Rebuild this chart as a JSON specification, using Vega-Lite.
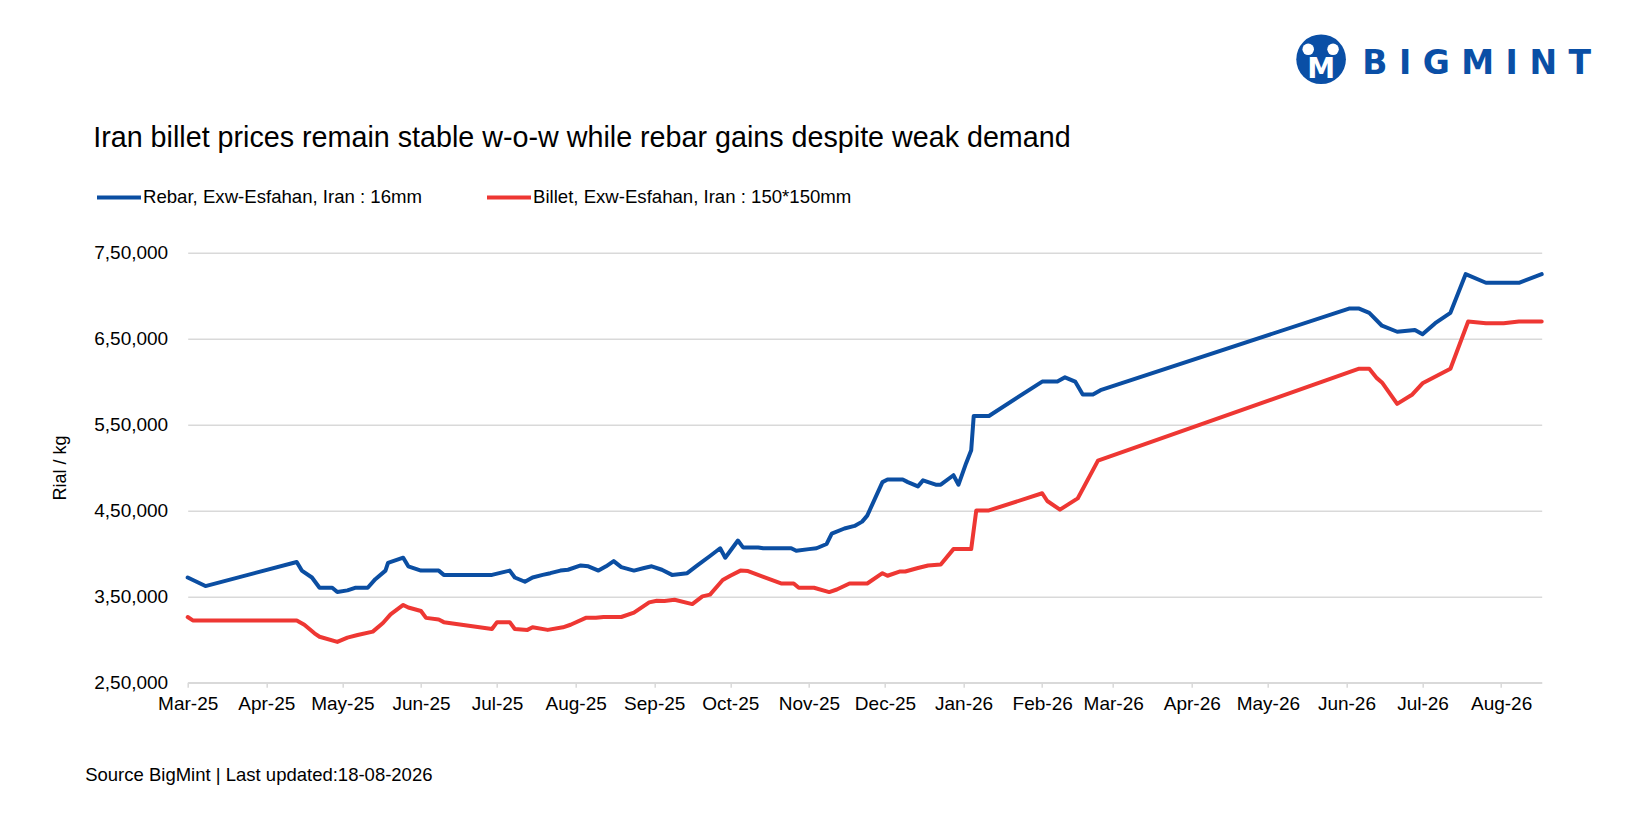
{
  "$schema": "https://vega.github.io/schema/vega-lite/v6.json",
  "width": 1354,
  "height": 429.6,
  "autosize": "none",
  "padding": {"left": 187.7, "top": 252.7, "right": 88.3, "bottom": 135.7},
  "background": "white",
  "config": {"font": "Liberation Sans", "view": {"stroke": null}},
  "title": {
    "text": "Iran billet prices remain stable w-o-w while rebar gains despite weak demand",
    "anchor": "start", "frame": "group", "fontSize": 28.7, "fontWeight": "normal",
    "color": "#000000", "dx": -94.5, "offset": 30, "dy": 148
  },
  "layer": [
    {
      "data": {"values": [
        {"d":"2025-03-01","s":"Rebar","p":372000},{"d":"2025-03-08","s":"Rebar","p":362000},{"d":"2025-04-13","s":"Rebar","p":390000},{"d":"2025-04-15","s":"Rebar","p":380000},{"d":"2025-04-19","s":"Rebar","p":372000},{"d":"2025-04-22","s":"Rebar","p":360000},{"d":"2025-04-27","s":"Rebar","p":360000},{"d":"2025-04-29","s":"Rebar","p":355000},{"d":"2025-05-03","s":"Rebar","p":357000},{"d":"2025-05-06","s":"Rebar","p":360000},{"d":"2025-05-11","s":"Rebar","p":360000},{"d":"2025-05-14","s":"Rebar","p":370000},{"d":"2025-05-18","s":"Rebar","p":380000},{"d":"2025-05-19","s":"Rebar","p":389000},{"d":"2025-05-25","s":"Rebar","p":395000},{"d":"2025-05-27","s":"Rebar","p":385000},{"d":"2025-06-01","s":"Rebar","p":380000},{"d":"2025-06-08","s":"Rebar","p":380000},{"d":"2025-06-10","s":"Rebar","p":375000},{"d":"2025-06-29","s":"Rebar","p":375000},{"d":"2025-07-06","s":"Rebar","p":380000},{"d":"2025-07-08","s":"Rebar","p":372000},{"d":"2025-07-12","s":"Rebar","p":367000},{"d":"2025-07-15","s":"Rebar","p":372000},{"d":"2025-07-19","s":"Rebar","p":375000},{"d":"2025-07-22","s":"Rebar","p":377000},{"d":"2025-07-26","s":"Rebar","p":380000},{"d":"2025-07-29","s":"Rebar","p":381000},{"d":"2025-08-03","s":"Rebar","p":386000},{"d":"2025-08-06","s":"Rebar","p":385000},{"d":"2025-08-10","s":"Rebar","p":380000},{"d":"2025-08-13","s":"Rebar","p":385000},{"d":"2025-08-16","s":"Rebar","p":391000},{"d":"2025-08-19","s":"Rebar","p":384000},{"d":"2025-08-24","s":"Rebar","p":380000},{"d":"2025-08-28","s":"Rebar","p":383000},{"d":"2025-08-31","s":"Rebar","p":385000},{"d":"2025-09-04","s":"Rebar","p":381000},{"d":"2025-09-08","s":"Rebar","p":375000},{"d":"2025-09-14","s":"Rebar","p":377000},{"d":"2025-09-18","s":"Rebar","p":386000},{"d":"2025-09-23","s":"Rebar","p":397000},{"d":"2025-09-27","s":"Rebar","p":406000},{"d":"2025-09-29","s":"Rebar","p":395000},{"d":"2025-10-04","s":"Rebar","p":415000},{"d":"2025-10-06","s":"Rebar","p":407000},{"d":"2025-10-12","s":"Rebar","p":407000},{"d":"2025-10-14","s":"Rebar","p":406000},{"d":"2025-10-25","s":"Rebar","p":406000},{"d":"2025-10-27","s":"Rebar","p":403000},{"d":"2025-11-01","s":"Rebar","p":405000},{"d":"2025-11-04","s":"Rebar","p":406000},{"d":"2025-11-08","s":"Rebar","p":411000},{"d":"2025-11-10","s":"Rebar","p":423000},{"d":"2025-11-15","s":"Rebar","p":429000},{"d":"2025-11-19","s":"Rebar","p":432000},{"d":"2025-11-22","s":"Rebar","p":437000},{"d":"2025-11-24","s":"Rebar","p":444000},{"d":"2025-11-30","s":"Rebar","p":483000},{"d":"2025-12-02","s":"Rebar","p":486000},{"d":"2025-12-08","s":"Rebar","p":486000},{"d":"2025-12-10","s":"Rebar","p":483000},{"d":"2025-12-14","s":"Rebar","p":478000},{"d":"2025-12-16","s":"Rebar","p":485000},{"d":"2025-12-21","s":"Rebar","p":480000},{"d":"2025-12-23","s":"Rebar","p":480000},{"d":"2025-12-28","s":"Rebar","p":491000},{"d":"2025-12-30","s":"Rebar","p":480000},{"d":"2026-01-02","s":"Rebar","p":505000},{"d":"2026-01-04","s":"Rebar","p":520000},{"d":"2026-01-05","s":"Rebar","p":560000},{"d":"2026-01-11","s":"Rebar","p":560000},{"d":"2026-02-01","s":"Rebar","p":600000},{"d":"2026-02-07","s":"Rebar","p":600000},{"d":"2026-02-10","s":"Rebar","p":605000},{"d":"2026-02-14","s":"Rebar","p":600000},{"d":"2026-02-17","s":"Rebar","p":585000},{"d":"2026-02-21","s":"Rebar","p":585000},{"d":"2026-02-24","s":"Rebar","p":590000},{"d":"2026-06-02","s":"Rebar","p":685000},{"d":"2026-06-06","s":"Rebar","p":685000},{"d":"2026-06-10","s":"Rebar","p":680000},{"d":"2026-06-15","s":"Rebar","p":665000},{"d":"2026-06-21","s":"Rebar","p":658000},{"d":"2026-06-28","s":"Rebar","p":660000},{"d":"2026-07-01","s":"Rebar","p":655000},{"d":"2026-07-06","s":"Rebar","p":668000},{"d":"2026-07-12","s":"Rebar","p":680000},{"d":"2026-07-18","s":"Rebar","p":725000},{"d":"2026-07-26","s":"Rebar","p":715000},{"d":"2026-08-08","s":"Rebar","p":715000},{"d":"2026-08-17","s":"Rebar","p":725000},
        {"d":"2025-03-01","s":"Billet","p":326000},{"d":"2025-03-03","s":"Billet","p":322000},{"d":"2025-04-13","s":"Billet","p":322000},{"d":"2025-04-16","s":"Billet","p":317000},{"d":"2025-04-20","s":"Billet","p":307000},{"d":"2025-04-22","s":"Billet","p":303000},{"d":"2025-04-29","s":"Billet","p":297000},{"d":"2025-05-03","s":"Billet","p":302000},{"d":"2025-05-07","s":"Billet","p":305000},{"d":"2025-05-13","s":"Billet","p":309000},{"d":"2025-05-17","s":"Billet","p":319000},{"d":"2025-05-20","s":"Billet","p":329000},{"d":"2025-05-25","s":"Billet","p":340000},{"d":"2025-05-27","s":"Billet","p":337000},{"d":"2025-06-01","s":"Billet","p":333000},{"d":"2025-06-03","s":"Billet","p":325000},{"d":"2025-06-08","s":"Billet","p":323000},{"d":"2025-06-10","s":"Billet","p":320000},{"d":"2025-06-29","s":"Billet","p":312000},{"d":"2025-07-01","s":"Billet","p":320000},{"d":"2025-07-06","s":"Billet","p":320000},{"d":"2025-07-08","s":"Billet","p":312000},{"d":"2025-07-13","s":"Billet","p":311000},{"d":"2025-07-15","s":"Billet","p":314000},{"d":"2025-07-21","s":"Billet","p":311000},{"d":"2025-07-27","s":"Billet","p":314000},{"d":"2025-07-30","s":"Billet","p":317000},{"d":"2025-08-05","s":"Billet","p":325000},{"d":"2025-08-09","s":"Billet","p":325000},{"d":"2025-08-12","s":"Billet","p":326000},{"d":"2025-08-19","s":"Billet","p":326000},{"d":"2025-08-24","s":"Billet","p":331000},{"d":"2025-08-30","s":"Billet","p":343000},{"d":"2025-09-02","s":"Billet","p":345000},{"d":"2025-09-05","s":"Billet","p":344500},{"d":"2025-09-09","s":"Billet","p":346000},{"d":"2025-09-16","s":"Billet","p":341000},{"d":"2025-09-20","s":"Billet","p":350000},{"d":"2025-09-23","s":"Billet","p":352000},{"d":"2025-09-28","s":"Billet","p":369000},{"d":"2025-10-01","s":"Billet","p":374000},{"d":"2025-10-05","s":"Billet","p":380000},{"d":"2025-10-08","s":"Billet","p":379500},{"d":"2025-10-21","s":"Billet","p":365000},{"d":"2025-10-26","s":"Billet","p":365000},{"d":"2025-10-28","s":"Billet","p":360000},{"d":"2025-11-03","s":"Billet","p":360000},{"d":"2025-11-09","s":"Billet","p":355000},{"d":"2025-11-12","s":"Billet","p":358000},{"d":"2025-11-17","s":"Billet","p":365000},{"d":"2025-11-24","s":"Billet","p":365000},{"d":"2025-11-30","s":"Billet","p":377000},{"d":"2025-12-02","s":"Billet","p":374000},{"d":"2025-12-07","s":"Billet","p":379000},{"d":"2025-12-09","s":"Billet","p":379000},{"d":"2025-12-14","s":"Billet","p":383000},{"d":"2025-12-18","s":"Billet","p":386000},{"d":"2025-12-23","s":"Billet","p":387000},{"d":"2025-12-28","s":"Billet","p":405000},{"d":"2026-01-04","s":"Billet","p":405000},{"d":"2026-01-06","s":"Billet","p":450000},{"d":"2026-01-11","s":"Billet","p":450000},{"d":"2026-02-01","s":"Billet","p":470000},{"d":"2026-02-03","s":"Billet","p":461000},{"d":"2026-02-08","s":"Billet","p":451000},{"d":"2026-02-15","s":"Billet","p":464000},{"d":"2026-02-23","s":"Billet","p":508000},{"d":"2026-06-06","s":"Billet","p":615000},{"d":"2026-06-10","s":"Billet","p":615000},{"d":"2026-06-13","s":"Billet","p":604000},{"d":"2026-06-15","s":"Billet","p":599000},{"d":"2026-06-21","s":"Billet","p":574000},{"d":"2026-06-27","s":"Billet","p":585000},{"d":"2026-07-01","s":"Billet","p":598000},{"d":"2026-07-12","s":"Billet","p":615000},{"d":"2026-07-19","s":"Billet","p":670000},{"d":"2026-07-26","s":"Billet","p":668000},{"d":"2026-08-02","s":"Billet","p":668000},{"d":"2026-08-08","s":"Billet","p":670000},{"d":"2026-08-17","s":"Billet","p":670000}
      ]},
      "mark": {"type": "line", "strokeWidth": 4, "strokeJoin": "round", "strokeCap": "round"},
      "encoding": {
        "x": {
          "field": "d", "type": "temporal",
          "scale": {"type": "utc", "domain": [{"year": 2025, "month": 3, "date": 1, "utc": true}, {"year": 2026, "month": 8, "date": 17, "utc": true}]},
          "axis": {
            "values": [
              {"year": 2025, "month": 3, "date": 1, "utc": true},{"year": 2025, "month": 4, "date": 1, "utc": true},{"year": 2025, "month": 5, "date": 1, "utc": true},{"year": 2025, "month": 6, "date": 1, "utc": true},{"year": 2025, "month": 7, "date": 1, "utc": true},{"year": 2025, "month": 8, "date": 1, "utc": true},{"year": 2025, "month": 9, "date": 1, "utc": true},{"year": 2025, "month": 10, "date": 1, "utc": true},{"year": 2025, "month": 11, "date": 1, "utc": true},{"year": 2025, "month": 12, "date": 1, "utc": true},{"year": 2026, "month": 1, "date": 1, "utc": true},{"year": 2026, "month": 2, "date": 1, "utc": true},{"year": 2026, "month": 3, "date": 1, "utc": true},{"year": 2026, "month": 4, "date": 1, "utc": true},{"year": 2026, "month": 5, "date": 1, "utc": true},{"year": 2026, "month": 6, "date": 1, "utc": true},{"year": 2026, "month": 7, "date": 1, "utc": true},{"year": 2026, "month": 8, "date": 1, "utc": true}
            ],
            "format": "%b-%y", "grid": false,
            "domainColor": "#d9d9d9", "domainWidth": 1.5, "tickColor": "#d9d9d9", "tickWidth": 1.5, "tickSize": 5,
            "labelFontSize": 19, "labelColor": "#000000", "labelPadding": 7,
            "labelOverlap": false, "labelFlush": false, "labelBound": false,
            "title": "Source BigMint | Last updated:18-08-2026",
            "titleFontSize": 18.5, "titleFontWeight": "normal", "titleColor": "#000000",
            "titleAlign": "left", "titleBaseline": "middle", "titleAnchor": "start",
            "titleX": -103, "titleY": 92
          }
        },
        "y": {
          "field": "p", "type": "quantitative",
          "scale": {"domain": [250000, 750000], "zero": false, "nice": false},
          "axis": {
            "values": [250000, 350000, 450000, 550000, 650000, 750000],
            "labelExpr": "floor(datum.value / 100000) + ',' + format((datum.value % 100000) / 1000, '02d') + ',000'",
            "grid": true, "gridColor": "#d9d9d9", "gridWidth": 1.5,
            "domain": false, "ticks": false,
            "labelFontSize": 19, "labelColor": "#000000", "labelPadding": 20,
            "title": "Rial / kg", "titleFontSize": 18, "titleFontWeight": "normal", "titleColor": "#000000", "titlePadding": 24
          }
        },
        "color": {
          "field": "s", "type": "nominal",
          "scale": {"domain": ["Rebar", "Billet"], "range": ["#0b4ea2", "#ee3733"]},
          "legend": {
            "orient": "none", "legendX": -92.7, "legendY": -79.5, "direction": "horizontal",
            "title": null, "symbolType": "stroke", "symbolSize": 1936, "symbolStrokeWidth": 4,
            "labelFontSize": 18.6, "labelColor": "#000000", "labelOffset": 0, "columnPadding": 56,
            "padding": 0, "labelLimit": 500,
            "labelExpr": "datum.label == 'Rebar' ? 'Rebar, Exw-Esfahan, Iran : 16mm' : 'Billet, Exw-Esfahan, Iran : 150*150mm'"
          }
        }
      }
    },
    {
      "data": {"values": [{}]},
      "mark": {"type": "point", "filled": true, "size": 2463, "color": "#0a4fa6", "opacity": 1, "strokeWidth": 0},
      "encoding": {
        "x": {"datum": {"year": 2026, "month": 5, "date": 22, "utc": true}, "type": "temporal"},
        "y": {"datum": 975100, "type": "quantitative"}
      }
    },
    {
      "data": {"values": [{}]},
      "mark": {"type": "point", "filled": true, "size": 133, "color": "#ffffff", "opacity": 1, "strokeWidth": 0},
      "encoding": {
        "x": {"datum": {"year": 2026, "month": 5, "date": 16, "hours": 22, "utc": true}, "type": "temporal"},
        "y": {"datum": 986700, "type": "quantitative"}
      }
    },
    {
      "data": {"values": [{}]},
      "mark": {"type": "point", "filled": true, "size": 133, "color": "#ffffff", "opacity": 1, "strokeWidth": 0},
      "encoding": {
        "x": {"datum": {"year": 2026, "month": 5, "date": 26, "hours": 17, "utc": true}, "type": "temporal"},
        "y": {"datum": 986700, "type": "quantitative"}
      }
    },
    {
      "data": {"values": [{}]},
      "mark": {"type": "text", "text": "M", "font": "DejaVu Sans", "fontWeight": "bold", "fontSize": 28, "color": "#ffffff", "align": "center", "baseline": "middle"},
      "encoding": {
        "x": {"datum": {"year": 2026, "month": 5, "date": 22, "utc": true}, "type": "temporal"},
        "y": {"datum": 962600, "type": "quantitative"}
      }
    },
    {
      "data": {"values": [{}]},
      "mark": {"type": "text", "text": "B I G M I N T", "font": "DejaVu Sans", "fontWeight": "bold", "fontSize": 33, "color": "#0a4fa6", "align": "left", "baseline": "middle"},
      "encoding": {
        "x": {"datum": {"year": 2026, "month": 6, "date": 7, "hours": 6, "utc": true}, "type": "temporal"},
        "y": {"datum": 969600, "type": "quantitative"}
      }
    }
  ]
}
